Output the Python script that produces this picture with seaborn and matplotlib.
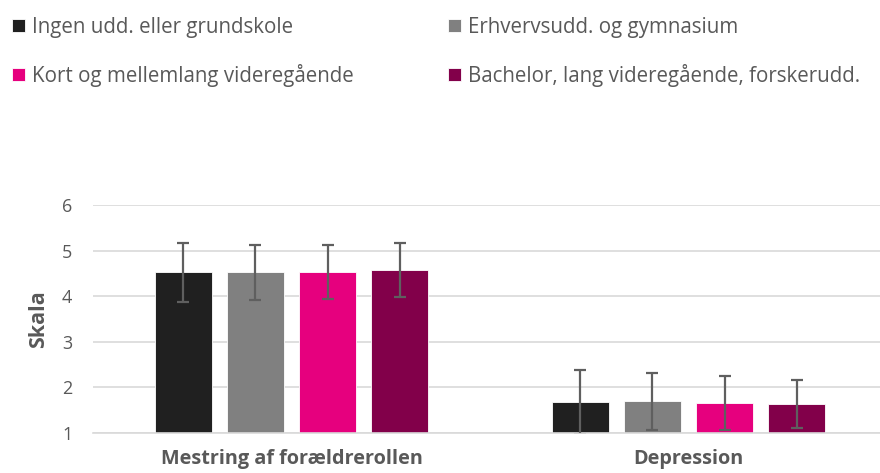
import matplotlib
matplotlib.use("Agg")
import matplotlib.pyplot as plt
import seaborn as sns
import pandas as pd

categories = ["Mestring af forældrerollen", "Depression"]
groups = ["Ingen udd. eller grundskole", "Erhvervsudd. og gymnasium",
          "Kort og mellemlang videregående", "Bachelor, lang videregående, forskerudd."]
mean_ingen = [4.52, 1.67]
mean_erhverv = [4.52, 1.69]
mean_kort = [4.53, 1.65]
mean_bachelor = [4.57, 1.63]
sd_ingen = [0.64, 0.71]
sd_erhverv = [0.60, 0.62]
sd_kort = [0.60, 0.60]
sd_bachelor = [0.59, 0.53]
colors = ["#202020", "#808080", "#E6007E", "#82004A"]
y_ticks = [1, 2, 3, 4, 5, 6]

means = [mean_ingen, mean_erhverv, mean_kort, mean_bachelor]
sds = [sd_ingen, sd_erhverv, sd_kort, sd_bachelor]

rows = []
for g, m in zip(groups, means):
    for c, v in zip(categories, m):
        rows.append({"Kategori": c, "Gruppe": g, "Værdi": v})
df = pd.DataFrame(rows)

sns.set_style("white")
plt.rcParams["font.family"] = ["Open Sans", "DejaVu Sans"]
TXT = "#595959"
GRID = "#D9D9D9"

fig = plt.figure(figsize=(8.8, 4.73), dpi=100)
ax = fig.add_axes([93 / 880, 40.3 / 473, 794 / 880, 227.7 / 473])

sns.barplot(data=df, x="Kategori", y="Værdi", hue="Gruppe", order=categories,
            hue_order=groups, palette=colors, width=0.7255, gap=0.222,
            errorbar=None, ax=ax, saturation=1, edgecolor="white", linewidth=0.6,
            legend=True)

for cont, sd in zip(ax.containers, sds):
    xs = [b.get_x() + b.get_width() / 2 for b in cont]
    hs = [b.get_height() for b in cont]
    ax.errorbar(xs, hs, yerr=sd, fmt="none", ecolor="#5F5F5F", elinewidth=1.6,
                capsize=4.3, capthick=1.6, zorder=5)

ax.set_xlim(-0.5, len(categories) - 0.5)
ax.set_ylim(1, 6)
ax.set_yticks(y_ticks)
ax.yaxis.grid(True, color=GRID, linewidth=1.2)
ax.set_axisbelow(True)
for s in ["top", "right", "left"]:
    ax.spines[s].set_visible(False)
ax.spines["bottom"].set_color(GRID)
ax.spines["bottom"].set_linewidth(1.2)
ax.tick_params(axis="both", length=0, colors=TXT)
ax.tick_params(axis="y", pad=15, labelsize=13)
ax.tick_params(axis="x", pad=12, labelsize=14.3)
for lab in ax.get_xticklabels():
    lab.set_fontweight("bold")
ax.set_xlabel("")
ax.set_ylabel("Skala", fontsize=15.5, fontweight="bold", color=TXT, labelpad=9)

handles, labels = ax.get_legend_handles_labels()
ax.get_legend().remove()
order = [0, 2, 1, 3]
fig.legend([handles[i] for i in order], [labels[i] for i in order], ncol=2,
           loc="upper left", bbox_to_anchor=(0.0, 1.0 - 4.5 / 473), frameon=False,
           handlelength=0.63, handleheight=0.63, handletextpad=0.33,
           columnspacing=4.6, labelspacing=1.25, fontsize=14.8, labelcolor=TXT,
           borderaxespad=0.2)

fig.savefig("out.png", dpi=100)
